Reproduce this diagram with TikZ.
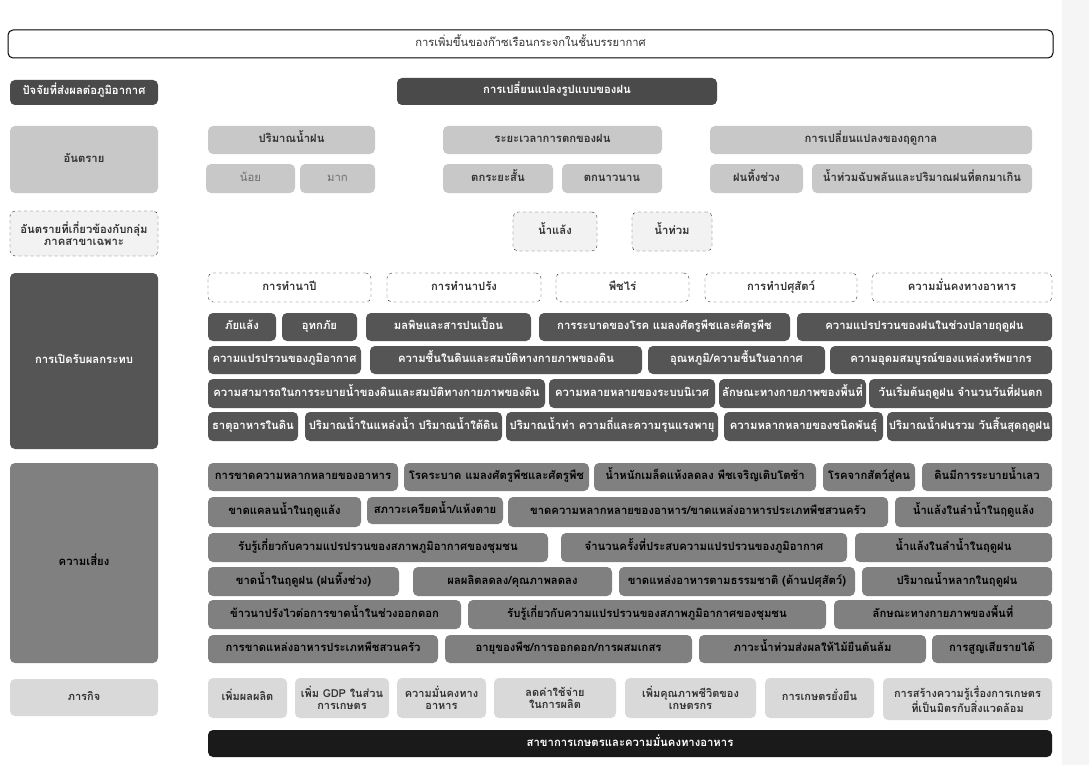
\documentclass[tikz,border=0pt]{standalone}
\usepackage{fontspec}
\newfontfamily\thai[Script=Thai]{Loma}
\definecolor{cdark}{HTML}{4A4A4A}
\definecolor{cexpo}{HTML}{555555}
\definecolor{chaz}{HTML}{C8C8C8}
\definecolor{crisk}{HTML}{808080}
\definecolor{cmis}{HTML}{D9D9D9}
\definecolor{cdash}{HTML}{F2F2F2}
\definecolor{cblack}{HTML}{1A1A1A}
\definecolor{ctxt}{HTML}{333333}
\definecolor{clight}{HTML}{6E6E6E}
\definecolor{cside}{HTML}{F5F5F5}
\tikzset{
  base/.style={rounded corners=5pt, inner sep=0pt, align=center, text height=8pt, text depth=3pt, font=\thai\bfseries\fontsize{11.3}{12}\selectfont},
  multi/.style={text height=, text depth=},
  topbox/.style={base, draw=black, line width=1pt, fill=white, font=\thai\fontsize{11.2}{12}\selectfont, text=ctxt},
  darkbox/.style={base, fill=cdark, text=white},
  expobox/.style={base, fill=cexpo, text=white},
  hazbox/.style={base, fill=chaz, text=ctxt},
  hazlight/.style={base, fill=chaz, text=clight, font=\thai\fontsize{11.3}{12}\selectfont},
  dashbox/.style={base, draw=ctxt, dashed, fill=cdash, text=ctxt},
  dashwhite/.style={base, draw=ctxt, dashed, fill=white, text=ctxt},
  riskbox/.style={base, fill=crisk, text=black},
  misbox/.style={base, fill=cmis, text=ctxt, font=\thai\bfseries\fontsize{11}{11.5}\selectfont},
  mis2/.style={misbox, multi},
  blackbox/.style={base, fill=cblack, text=white}
}
\newcommand\bx[7]{\node[#6, minimum width={(#4-#2)*1pt}, minimum height={(#5-#3)*1pt}] (#1) at ({(#2+#4)/2},{(#3+#5)/2}) {#7};}
\begin{document}
\begin{tikzpicture}[x=1pt,y=-1pt]
\useasboundingbox (0,0) rectangle (1089,765);
\fill[cside] (1062,0) rectangle (1089,765);
% top
\bx{ghg}{8}{30}{1053}{58}{topbox}{การเพิ่มขึ้นของก๊าซเรือนกระจกในชั้นบรรยากาศ}
\bx{factor}{10}{80}{158}{105}{darkbox}{ปัจจัยที่ส่งผลต่อภูมิอากาศ}
\bx{rainpat}{397}{78}{717}{105}{darkbox}{การเปลี่ยนแปลงรูปแบบของฝน}
% hazard
\bx{haz}{10}{126}{158}{193}{hazbox}{อันตราย}
\bx{hamt}{208}{126}{375}{154}{hazbox}{ปริมาณน้ำฝน}
\bx{hless}{206}{164}{295}{193}{hazlight}{น้อย}
\bx{hmore}{300}{164}{375}{193}{hazlight}{มาก}
\bx{hdur}{443}{126}{662}{154}{hazbox}{ระยะเวลาการตกของฝน}
\bx{hshort}{443}{164}{553}{193}{hazbox}{ตกระยะสั้น}
\bx{hlong}{562}{164}{662}{193}{hazbox}{ตกนาวนาน}
\bx{hseas}{710}{126}{1032}{154}{hazbox}{การเปลี่ยนแปลงของฤดูกาล}
\bx{hdry}{710}{164}{803}{193}{hazbox}{ฝนทิ้งช่วง}
\bx{hflash}{812}{164}{1032}{193}{hazbox}{น้ำท่วมฉับพลันและปริมาณฝนที่ตกมาเกิน}
% sector hazard
\bx{shaz}{10}{211}{158}{256}{dashbox,multi}{อันตรายที่เกี่ยวข้องกับกลุ่ม\\ภาคสาขาเฉพาะ}
\bx{drought}{513}{212}{597}{251}{dashbox}{น้ำแล้ง}
\bx{flood}{632}{212}{712}{251}{dashbox}{น้ำท่วม}
% exposure
\bx{expo}{10}{273}{158}{449}{expobox}{การเปิดรับผลกระทบ}
\bx{e1}{208}{273}{371}{302}{dashwhite}{การทำนาปี}
\bx{e2}{387}{273}{541}{302}{dashwhite}{การทำนาปรัง}
\bx{e3}{556}{273}{689}{302}{dashwhite}{พืชไร่}
\bx{e4}{705}{273}{857}{302}{dashwhite}{การทำปศุสัตว์}
\bx{e5}{872}{273}{1052}{302}{dashwhite}{ความมั่นคงทางอาหาร}
\bx{f1}{208}{313}{276}{341}{expobox}{ภัยแล้ง}
\bx{f2}{282}{313}{357}{341}{expobox}{อุทกภัย}
\bx{f3}{366}{313}{531}{341}{expobox}{มลพิษและสารปนเปื้อน}
\bx{f4}{539}{313}{790}{341}{expobox}{การระบาดของโรค แมลงศัตรูพืชและศัตรูพืช}
\bx{f5}{797}{313}{1052}{341}{expobox}{ความแปรปรวนของฝนในช่วงปลายฤดูฝน}
\bx{g1}{208}{346}{361}{374}{expobox}{ความแปรปรวนของภูมิอากาศ}
\bx{g2}{370}{346}{642}{374}{expobox}{ความชื้นในดินและสมบัติทางกายภาพของดิน}
\bx{g3}{648}{346}{825}{374}{expobox}{อุณหภูมิ/ความชื้นในอากาศ}
\bx{g4}{830}{346}{1052}{374}{expobox}{ความอุดมสมบูรณ์ของแหล่งทรัพยากร}
\bx{h1}{208}{379}{545}{408}{expobox}{ความสามารถในการระบายน้ำของดินและสมบัติทางกายภาพของดิน}
\bx{h2}{549}{379}{715}{408}{expobox}{ความหลายหลายของระบบนิเวศ}
\bx{h3}{719}{379}{866}{408}{expobox}{ลักษณะทางกายภาพของพื้นที่}
\bx{h4}{869}{379}{1052}{408}{expobox}{วันเริ่มต้นฤดูฝน จำนวนวันที่ฝนตก}
\bx{i1}{208}{412}{298}{441}{expobox}{ธาตุอาหารในดิน}
\bx{i2}{305}{412}{502}{441}{expobox}{ปริมาณน้ำในแหล่งน้ำ ปริมาณน้ำใต้ดิน}
\bx{i3}{506}{412}{718}{441}{expobox}{ปริมาณน้ำท่า ความถี่และความรุนแรงพายุ}
\bx{i4}{724}{412}{883}{441}{expobox}{ความหลากหลายของชนิดพันธุ์}
\bx{i5}{887}{412}{1052}{441}{expobox}{ปริมาณน้ำฝนรวม วันสิ้นสุดฤดูฝน}
% risk
\bx{risk}{10}{463}{158}{663}{riskbox}{ความเสี่ยง}
\bx{r11}{208}{463}{398}{491}{riskbox}{การขาดความหลากหลายของอาหาร}
\bx{r12}{404}{463}{589}{491}{riskbox}{โรคระบาด แมลงศัตรูพืชและศัตรูพืช}
\bx{r13}{594}{463}{816}{491}{riskbox}{น้ำหนักเมล็ดแห้งลดลง พืชเจริญเติบโตช้า}
\bx{r14}{823}{463}{915}{491}{riskbox}{โรคจากสัตว์สู่คน}
\bx{r15}{922}{463}{1052}{491}{riskbox}{ดินมีการระบายน้ำเลว}
\bx{r21}{208}{497}{361}{527}{riskbox}{ขาดแคลนน้ำในฤดูแล้ง}
\bx{r22}{367}{497}{503}{524}{riskbox}{สภาวะเครียดน้ำ/แห้งตาย}
\bx{r23}{508}{497}{888}{527}{riskbox}{ขาดความหลากหลายของอาหาร/ขาดแหล่งอาหารประเภทพืชสวนครัว}
\bx{r24}{895}{497}{1052}{527}{riskbox}{น้ำแล้งในลำน้ำในฤดูแล้ง}
\bx{r31}{208}{533}{548}{562}{riskbox}{รับรู้เกี่ยวกับความแปรปรวนของสภาพภูมิอากาศของชุมชน}
\bx{r32}{561}{533}{847}{562}{riskbox}{จำนวนครั้งที่ประสบความแปรปรวนของภูมิอากาศ}
\bx{r33}{855}{533}{1052}{562}{riskbox}{น้ำแล้งในลำน้ำในฤดูฝน}
\bx{r41}{208}{567}{399}{596}{riskbox}{ขาดน้ำในฤดูฝน (ฝนทิ้งช่วง)}
\bx{r42}{413}{567}{612}{596}{riskbox}{ผลผลิตลดลง/คุณภาพลดลง}
\bx{r43}{619}{567}{855}{596}{riskbox}{ขาดแหล่งอาหารตามธรรมชาติ (ด้านปศุสัตว์)}
\bx{r44}{862}{567}{1052}{596}{riskbox}{ปริมาณน้ำหลากในฤดูฝน}
\bx{r51}{208}{600}{461}{629}{riskbox}{ข้าวนาปรังไวต่อการขาดน้ำในช่วงออกดอก}
\bx{r52}{468}{600}{826}{629}{riskbox}{รับรู้เกี่ยวกับความแปรปรวนของสภาพภูมิอากาศของชุมชน}
\bx{r53}{834}{600}{1052}{629}{riskbox}{ลักษณะทางกายภาพของพื้นที่}
\bx{r61}{208}{635}{438}{663}{riskbox}{การขาดแหล่งอาหารประเภทพืชสวนครัว}
\bx{r62}{445}{635}{692}{663}{riskbox}{อายุของพืช/การออกดอก/การผสมเกสร}
\bx{r63}{699}{635}{926}{663}{riskbox}{ภาวะน้ำท่วมส่งผลให้ไม้ยืนต้นล้ม}
\bx{r64}{932}{635}{1052}{663}{riskbox}{การสูญเสียรายได้}
% mission
\bx{mis}{10}{679}{158}{716}{misbox}{ภารกิจ}
\bx{m1}{208}{678}{287}{718}{misbox}{เพิ่มผลผลิต}
\bx{m2}{295}{678}{389}{718}{mis2}{เพิ่ม GDP ในส่วน\\การเกษตร}
\bx{m3}{397}{678}{486}{718}{mis2}{ความมั่นคงทาง\\อาหาร}
\bx{m4}{494}{678}{616}{718}{mis2}{ลดค่าใช้จ่าย\\ในการผลิต}
\bx{m5}{625}{678}{756}{718}{mis2}{เพิ่มคุณภาพชีวิตของ\\เกษตรกร}
\bx{m6}{765}{678}{874}{718}{misbox}{การเกษตรยั่งยืน}
\bx{m7}{883}{678}{1052}{720}{mis2}{การสร้างความรู้เรื่องการเกษตร\\ที่เป็นมิตรกับสิ่งแวดล้อม}
\bx{sector}{208}{730}{1052}{757}{blackbox}{สาขาการเกษตรและความมั่นคงทางอาหาร}
\end{tikzpicture}
\end{document}
